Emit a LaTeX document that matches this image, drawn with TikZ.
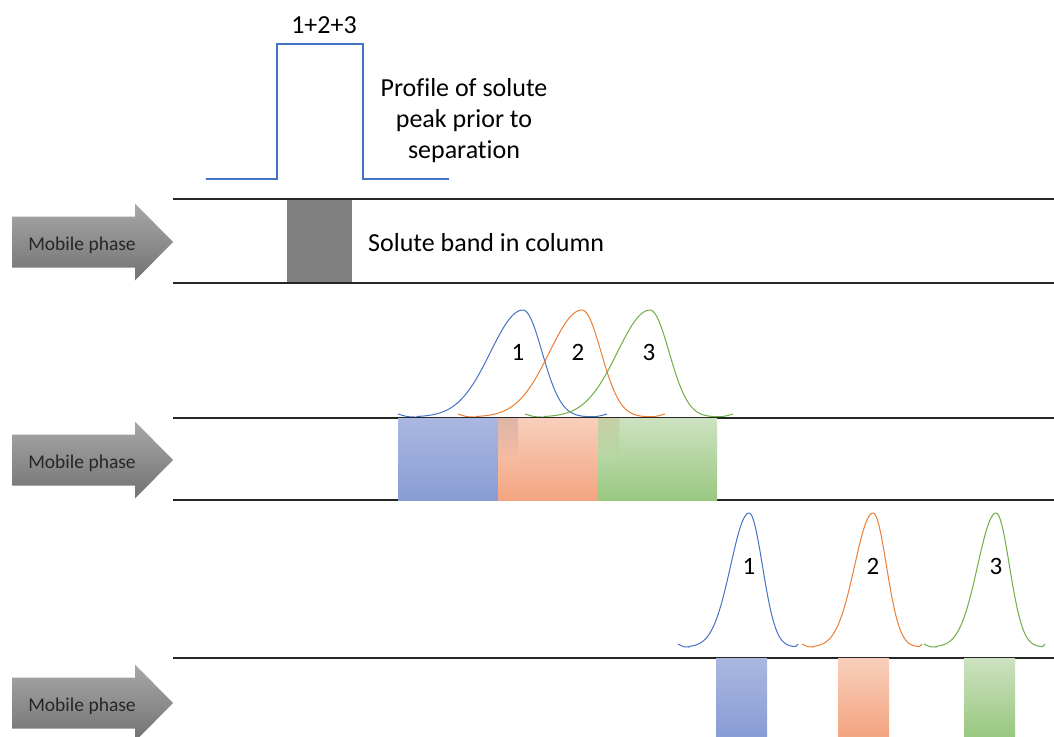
\documentclass[tikz,border=0pt]{standalone}
\usepackage{fontspec}
\setmainfont{Carlito}[Ligatures={NoCommon,NoRare,NoDiscretionary}]

\definecolor{peakblue}{HTML}{4472C4}
\definecolor{peakorange}{HTML}{ED7D31}
\definecolor{peakgreen}{HTML}{70AD47}
\definecolor{bandgray}{HTML}{808080}
\definecolor{arrowtop}{RGB}{168,168,168}
\definecolor{arrowbot}{RGB}{114,114,114}
\definecolor{bluetop}{HTML}{AAB7E1}
\definecolor{bluebot}{HTML}{889DD5}
\definecolor{orangetop}{HTML}{F8CFBC}
\definecolor{orangebot}{HTML}{F4A581}
\definecolor{greentop}{HTML}{CDE2C1}
\definecolor{greenbot}{HTML}{99C880}
\definecolor{mixbo}{HTML}{DDB5A8}
\definecolor{mixog}{HTML}{C7CFA6}

\tikzset{
  column/.style={line width=1.1pt, black!85},
  peakline/.style={line width=1pt},
  bigtext/.style={font=\fontsize{26}{31}\selectfont, inner sep=0pt},
  digit/.style={font=\fontsize{25}{30}\selectfont, inner sep=0pt},
  phasetext/.style={font=\fontsize{19.5}{23}\selectfont, inner sep=0pt, text=black!85},
}

% block arrow for the flow of the mobile phase: #1 label name, #2 centre y
\newcommand\phasearrow[2]{%
  \shade[top color=arrowtop, bottom color=arrowbot]
    (12,#2-25.5) -- (135,#2-25.5) -- (135,#2-38.5) -- (173,#2)
    -- (135,#2+38.5) -- (135,#2+25.5) -- (12,#2+25.5) -- cycle;
  \node[phasetext] (#1) at (82,#2+3.5) {Mobile phase};
}

% skewed elution peak: #1 colour, #2 centre x, #3 baseline y, #4 height,
% #5 left width, #6 right width, #7 left tail end x, #8 right tail end x
\newcommand\elutionpeak[8]{%
  \pgfmathsetmacro\pkL{#2-2.3*#5}%
  \pgfmathsetmacro\pkR{#2+2.3*#6}%
  \pgfmathsetmacro\pkLc{0.5*(#7+\pkL)}%
  \pgfmathsetmacro\pkRc{0.5*(#8+\pkR)}%
  \draw[peakline,#1] (#7,#3-3) .. controls (\pkLc,#3) .. (\pkL,#3)
    -- plot[domain=\pkL:#2,samples=40,smooth]
         (\x,{#3-#4*exp(-((\x-#2)/#5)*((\x-#2)/#5))})
    -- plot[domain=#2:\pkR,samples=40,smooth]
         (\x,{#3-#4*exp(-((\x-#2)/#6)*((\x-#2)/#6))})
    .. controls (\pkRc,#3) .. (#8,#3-3);
}

\begin{document}
\begin{tikzpicture}[x=1pt,y=-1pt]
  \useasboundingbox (0,0) rectangle (1054,736);
  \fill[white] (0,0) rectangle (1054,736);

  % --- injected sample: rectangular profile and band -------------------
  \draw[peakblue, line width=1.1pt]
    (206,179) -- (277,179) -- (277,44) -- (363,44) -- (363,179) -- (449,179);
  \node[bigtext] (sum) at (324,25) {1+2+3};
  \node[bigtext, align=center] (profile) at (464,120.5)
    {Profile of solute\\peak prior to\\separation};

  \fill[bandgray] (287,199) rectangle (352,283);
  \draw[column] (173,199) -- (1054,199);
  \draw[column] (173,283) -- (1054,283);
  \node[bigtext, anchor=west] (bandlabel) at (368,243) {Solute band in column};
  \phasearrow{mp1}{242}

  % --- partly separated bands ------------------------------------------
  \elutionpeak{peakblue}{523}{417}{107}{46}{27}{398}{607}
  \elutionpeak{peakorange}{582}{417}{107}{46}{27}{458}{665}
  \elutionpeak{peakgreen}{650}{417}{107}{46}{27}{525}{733}
  \node[digit] (p21) at (518,352.5) {1};
  \node[digit] (p22) at (578,352.5) {2};
  \node[digit] (p23) at (649,352.5) {3};

  \draw[column] (173,418) -- (1054,418);
  \draw[column] (173,500) -- (1054,500);
  \shade[top color=bluetop, bottom color=bluebot] (398,418) rectangle (498,500);
  \shade[top color=orangetop, bottom color=orangebot] (498,418) rectangle (598,500);
  \shade[top color=greentop, bottom color=greenbot] (598,418) rectangle (717,500);
  \shade[top color=mixbo, bottom color=orangetop!55!orangebot] (498,418) rectangle (518,460);
  \shade[top color=mixog, bottom color=greentop!55!greenbot] (598,418) rectangle (619,460);
  \phasearrow{mp2}{460}

  % --- fully resolved bands --------------------------------------------
  \elutionpeak{peakblue}{749}{647}{134}{26}{19}{678}{798}
  \elutionpeak{peakorange}{873}{647}{134}{26}{19}{802}{922}
  \elutionpeak{peakgreen}{996}{647}{134}{26}{19}{924}{1045}
  \node[digit] (p31) at (749,566) {1};
  \node[digit] (p32) at (873,566) {2};
  \node[digit] (p33) at (996,566) {3};

  \draw[column] (173,658) -- (1054,658);
  \shade[top color=bluetop, bottom color=bluebot] (716,658) rectangle (767,736);
  \shade[top color=orangetop, bottom color=orangebot] (838,658) rectangle (889,736);
  \shade[top color=greentop, bottom color=greenbot] (964,658) rectangle (1015,736);
  \phasearrow{mp3}{703}
\end{tikzpicture}
\end{document}
